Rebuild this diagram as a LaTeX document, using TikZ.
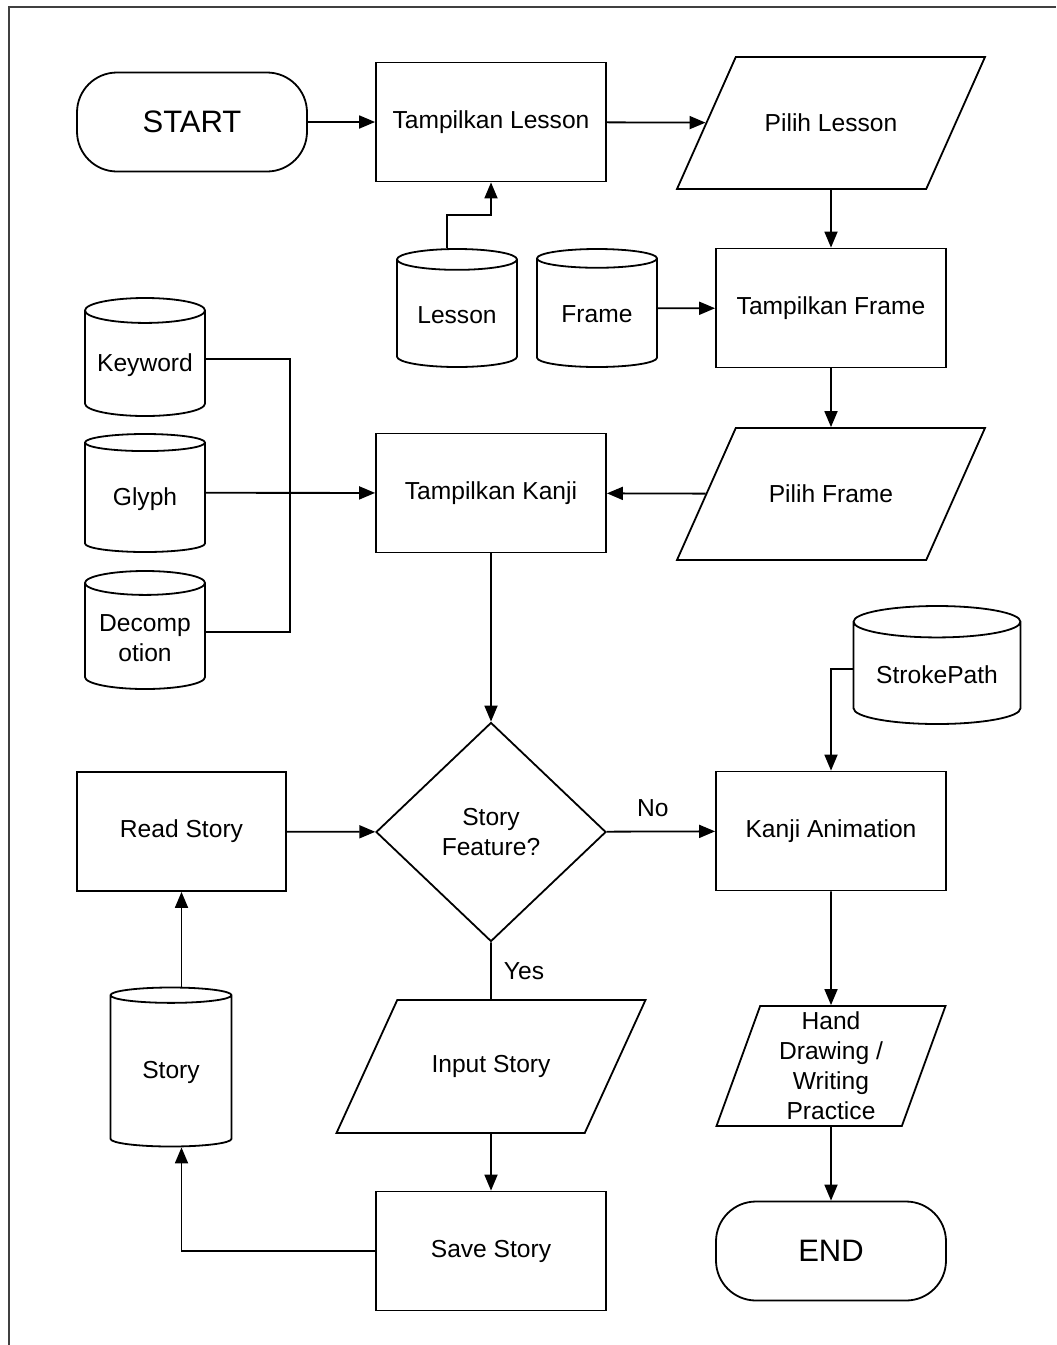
\documentclass[tikz,border=0pt]{standalone}
\usepackage{fontspec}
\setmainfont{Liberation Sans}
\usetikzlibrary{arrows.meta,shapes.geometric}
\tikzset{
 link/.style={line width=.9pt},
 arr/.style={link,-{Triangle[length=8pt,width=6.5pt]}},
 process/.style={rectangle,draw,line width=.9pt,minimum width=115pt,minimum height=59.5pt,inner sep=2pt,align=center},
 terminal/.style={rectangle,rounded corners=20pt,draw,line width=.9pt,minimum width=115pt,minimum height=49.5pt,font=\fontsize{15.5}{18}\selectfont},
 datain/.style={trapezium,trapezium left angle=65,trapezium right angle=115,trapezium stretches body,draw,line width=.9pt,minimum width=154pt,minimum height=66pt,inner xsep=0pt,inner ysep=27pt,align=center},
 store/.style={cylinder,shape border rotate=90,aspect=.25,draw,line width=.9pt,minimum width=60pt,minimum height=59pt,inner sep=1pt,align=center,anchor=shape center},
 decision/.style={diamond,draw,line width=.9pt,minimum width=115pt,minimum height=109.5pt,inner sep=0pt,align=center},
 lbl/.style={inner sep=2pt}
}

\begin{document}
\begin{tikzpicture}[x=0.5pt,y=-0.5pt,font=\fontsize{12.3}{15}\selectfont]
\path[use as bounding box] (0,0) rectangle (1056,1345);
\draw[line width=1pt,black!75] (9,1345) -- (9,7) -- (1056,7);
% top row
\node[terminal] (start) at (192,122) {START};
\node[process] (tl) at (491,122) {Tampilkan Lesson};
\node[datain] (pl) at (831,123) {Pilih Lesson};
% data stores
\node[store] (lesson) at (457,308) {Lesson};
\node[store] (frame) at (597,308) {Frame};
\node[process] (tf) at (831,308) {Tampilkan Frame};
\node[store] (kw) at (145,357) {Keyword};
\node[store] (gl) at (145,493) {Glyph};
\node[store] (dc) at (145,630) {Decomp\\otion};
\node[process] (tk) at (491,493) {Tampilkan Kanji};
\node[datain] (pf) at (831,494) {Pilih Frame};
\node[store,minimum width=83.5pt] (sp) at (937,665) {StrokePath};
% decision
\node[decision] (dec) at (491,832) {Story\\Feature?};
\node[process,minimum width=104.5pt] (rs) at (181.5,831.5) {Read Story};
\node[process] (ka) at (831,831) {Kanji Animation};
\node[store,minimum width=60.5pt,minimum height=79.5pt] (story) at (171,1067) {Story};
\node[datain,minimum width=154.5pt,minimum height=66.5pt] (is) at (491,1066.5) {Input Story};
\node[datain,trapezium left angle=68,trapezium right angle=112,minimum width=114.5pt,minimum height=60pt,inner ysep=0pt] (hd) at (831,1066) {Hand\\Drawing /\\Writing\\Practice};
\node[process] (ss) at (491,1251) {Save Story};
\node[terminal] (stop) at (831,1251) {END};
\coordinate (bus) at (290,493);
% connectors
\draw[arr] (start) -- (tl);
\draw[arr] (tl) -- (pl);
\draw[arr] (pl) -- (tf);
\draw[arr] ([xshift=-5pt]lesson.north) -- ++(0,-33) -| (tl.south);
\draw[arr] ([yshift=3pt]frame.east) -- (tf);
\draw[arr] (tf) -- (pf);
\draw[arr] (pf) -- (tk);
\draw[link] ([yshift=3pt]kw.east) -| (bus);
\draw[link] ([yshift=3pt]dc.east) -| (bus);
\draw[arr] ([yshift=3pt]gl.east) -- (tk);
\draw[arr] (tk) -- (dec);
\draw[arr] (rs) -- (dec);
\draw[arr] (dec) -- node[lbl,above,xshift=-4pt,yshift=5pt]{No} (ka);
\draw[link] (dec) -- node[lbl,right,xshift=4pt]{Yes} (is);
\draw[arr] ([yshift=3pt]sp.west) -| (ka.north);
\draw[arr] (ka) -- (hd);
\draw[arr] (hd) -- (stop);
\draw[arr] (is) -- (ss);
\draw[arr] (ss.west) -| (rs |- story.south);
\draw[arr] (rs |- story.north) -- (rs.south);
\end{tikzpicture}
\end{document}
